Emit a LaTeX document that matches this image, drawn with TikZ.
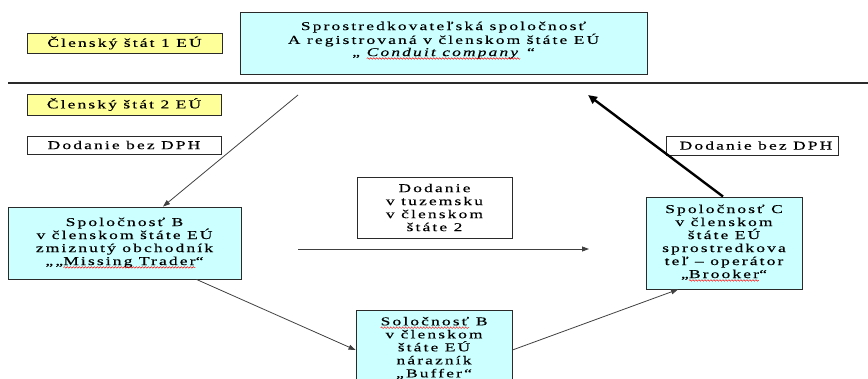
\documentclass[tikz,border=0pt]{standalone}
\usepackage{fontspec}
\setmainfont{Liberation Serif}[FakeStretch=1.45,LetterSpace=18,FakeBold=0.3]
\usetikzlibrary{arrows.meta,decorations.pathmorphing}

\definecolor{cyanbg}{HTML}{CCFFFF}
\definecolor{yellowbg}{HTML}{FFFF99}
\definecolor{edge}{HTML}{2A2A2A}

% red wavy underline, as a spell checker marks words
\newcommand\redwave[1]{\tikz[baseline=(wv.base), x=1pt, y=1pt]{%
  \node[inner sep=0pt, outer sep=0pt, minimum width=0pt, minimum height=0pt,
        draw=none, fill=none] (wv) {#1};
  \draw[red, line width=0.45pt, decorate,
        decoration={snake, amplitude=0.8pt, segment length=3pt}]
    ([yshift=-2.4pt]wv.base west) -- ([yshift=-2.4pt]wv.base east);}}

\tikzset{
  txt/.style={font=\fontsize{12}{13}\selectfont, align=center},
  cbox/.style={txt, draw=edge, line width=0.9pt, fill=cyanbg, inner sep=0pt},
  ybox/.style={txt, draw=edge, line width=0.9pt, fill=yellowbg, inner sep=0pt},
  wbox/.style={txt, draw=edge, line width=0.9pt, fill=white, inner sep=0pt},
  flow/.style={draw=black!75, line width=0.8pt, -{Triangle[length=7pt,width=5pt]}},
  heavy/.style={draw=black, line width=2.4pt, -{Triangle[length=9pt,width=8pt]}},
}

\begin{document}
\begin{tikzpicture}[x=1pt,y=-1pt]
\useasboundingbox (0,0) rectangle (868,378);
\clip (0,0) rectangle (868,378);

% border between the two member states
\draw[edge, line width=1.4pt] (8,83) -- (868,83);

% state labels
\node[ybox, minimum width=195pt, minimum height=20pt] (s1) at (124.5,43) {Členský štát 1 EÚ};
\node[ybox, minimum width=194pt, minimum height=21pt] (s2) at (124,104.5) {Členský štát 2 EÚ};

% supply labels
\node[wbox, minimum width=194pt, minimum height=18pt] (d1) at (124,145) {Dodanie bez DPH};
\node[wbox, minimum width=172pt, minimum height=19pt] (d2) at (752,145.5) {\hspace*{8pt}Dodanie bez DPH};

% conduit company
\node[cbox, minimum width=407pt, minimum height=62pt] (A) at (443.5,43) {};
\node[txt, font=\fontsize{12}{12.2}\selectfont, anchor=north] (At) at ([yshift=-6.5pt]A.north)
  {Sprostredkovateľská spoločnosť\\
   A registrovaná v členskom štáte EÚ\\
   „ \redwave{\textit{Conduit company}} “};

% missing trader
\node[cbox, minimum width=233pt, minimum height=72pt] (B) at (124.5,243)
  {Spoločnosť B\\ v členskom štáte EÚ\\ zmiznutý obchodník\\ „„\redwave{Missing Trader}“};

% domestic supply note
\node[wbox, minimum width=155pt, minimum height=61pt] (M) at (434.5,207.5)
  {Dodanie\\ v tuzemsku\\ v členskom\\ štáte 2};

% broker
\node[cbox, minimum width=156pt, minimum height=92pt] (C) at (724,243)
  {Spoločnosť C\\ v členskom\\ štáte EÚ\\ sprostredkova\\ teľ – operátor\\ „\redwave{Brooker}“};

% buffer
\node[cbox, minimum width=156pt, minimum height=76pt] (D) at (434,348)
  {\redwave{Soločnosť} B\\ v členskom\\ štáte EÚ\\ nárazník\\ „Buffer“};

% free ends of the connectors
\coordinate (a1) at (298,95);
\coordinate (h1) at (298,249);
\coordinate (h2) at (589,249);
\coordinate (a2) at (588,95);

\draw[flow] (a1) -- ([xshift=38.5pt]B.north);
\draw[flow] (h1) -- (h2);
\draw[heavy] ([xshift=-1pt]C.north) -- (a2);
\draw[flow] ([xshift=72pt]B.south) -- ([yshift=-2pt]D.west);
\draw[flow] ([yshift=-2pt]D.east) -- ([xshift=-46pt]C.south);
\end{tikzpicture}
\end{document}
